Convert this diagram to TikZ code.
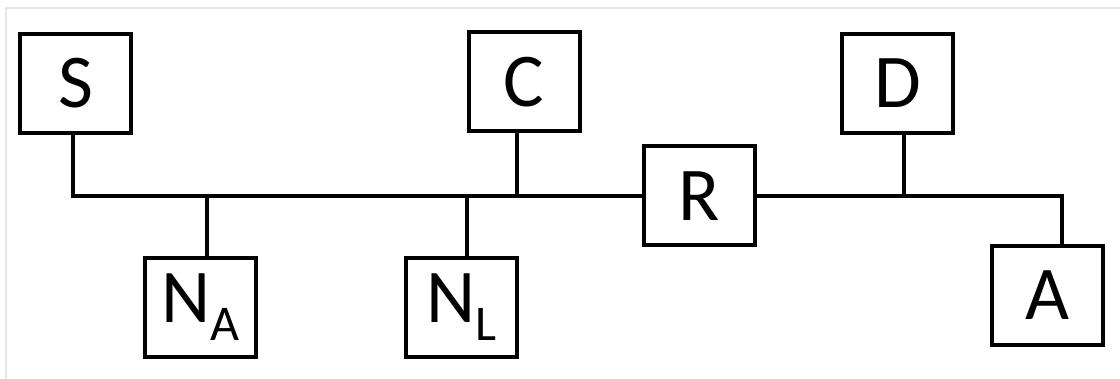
\documentclass[tikz,border=0pt]{standalone}
\usepackage{fontspec}
\setmainfont{Carlito}
\begin{document}
\begin{tikzpicture}[x=1pt,y=-1pt,
  blk/.style={draw=black, line width=4pt, minimum width=111pt, minimum height=99pt, inner sep=0pt, font=\fontsize{76}{76}\selectfont},
  wire/.style={draw=black, line width=4pt}]
\useasboundingbox (0,0) rectangle (1120,379);
\draw[black!10, line width=1.5pt] (6,379) -- (6,8) -- (1120,8);
\newcommand{\subs}[1]{\raisebox{-18pt}{\fontsize{50}{50}\selectfont #1}}
\node[blk] (S) at (75.5,83.5) {S};
\node[blk] (C) at (524,82) {C};
\node[blk] (D) at (897.5,83.5) {D};
\node[blk] (R) at (699,196) {R};
\node[blk] (NA) at (200,307.5) {N\subs{A}};
\node[blk] (NL) at (461.5,307.5) {N\subs{L}};
\node[blk] (A) at (1047,295.5) {A};
\draw[wire] ([xshift=-2.5pt]S.south) |- (R.west);
\draw[wire] (R.east) -| ([xshift=15pt]A.north);
\draw[wire] ([xshift=7pt]NA.north) -- ([xshift=7pt]NA.north |- R.west);
\draw[wire] ([xshift=5.5pt]NL.north) -- ([xshift=5.5pt]NL.north |- R.west);
\draw[wire] ([xshift=-7pt]C.south) -- ([xshift=-7pt]C.south |- R.west);
\draw[wire] ([xshift=6.5pt]D.south) -- ([xshift=6.5pt]D.south |- R.west);
\end{tikzpicture}
\end{document}
